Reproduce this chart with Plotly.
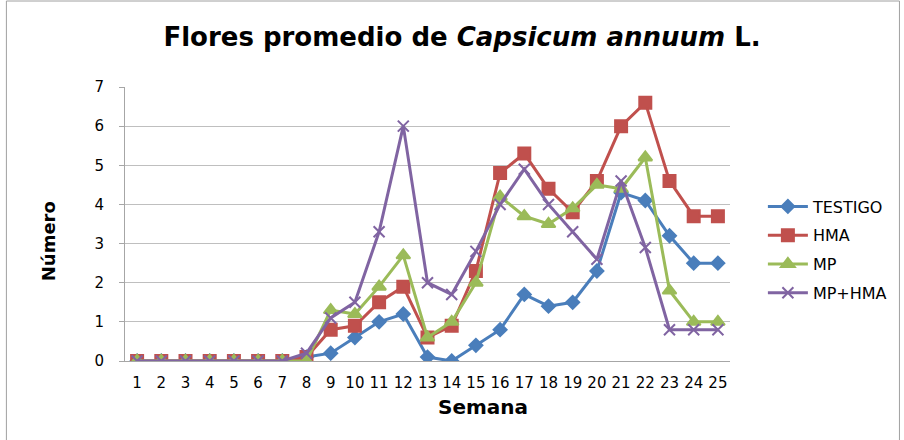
import plotly.graph_objects as go

weeks = [str(i) for i in range(1, 26)]
testigo = [0, 0, 0, 0, 0, 0, 0, 0.1, 0.2, 0.6, 1.0, 1.2, 0.1, 0.0, 0.4, 0.8, 1.7, 1.4, 1.5, 2.3, 4.3, 4.1, 3.2, 2.5, 2.5]
hma = [0, 0, 0, 0, 0, 0, 0, 0.1, 0.8, 0.9, 1.5, 1.9, 0.6, 0.9, 2.3, 4.8, 5.3, 4.4, 3.8, 4.6, 6.0, 6.6, 4.6, 3.7, 3.7]
mp = [0, 0, 0, 0, 0, 0, 0, 0.0, 1.3, 1.2, 1.9, 2.7, 0.6, 1.0, 2.0, 4.2, 3.7, 3.5, 3.9, 4.5, 4.4, 5.2, 1.8, 1.0, 1.0]
mp_hma = [0, 0, 0, 0, 0, 0, 0, 0.2, 1.1, 1.5, 3.3, 6.0, 2.0, 1.7, 2.8, 4.0, 4.9, 4.0, 3.3, 2.6, 4.6, 2.9, 0.8, 0.8, 0.8]

series = [
    ("TESTIGO", testigo, "#4A7EBB", "diamond", 10),
    ("HMA", hma, "#C0504D", "square", 12),
    ("MP", mp, "#9BBB59", "triangle-up", 12),
    ("MP+HMA", mp_hma, "#8064A2", "x-thin", 11),
]

FONT = "'DejaVu Sans', Verdana, sans-serif"

fig = go.Figure()
for name, vals, color, sym, size in series:
    fig.add_trace(go.Scatter(
        x=weeks, y=vals, name=name, mode="lines+markers", legendgroup=name,
        line=dict(color=color, width=3),
        marker=dict(symbol=sym, size=size, color=color,
                    line=dict(color=color, width=2)),
    ))

fig.update_layout(
    width=904, height=440,
    paper_bgcolor="white", plot_bgcolor="white",
    margin=dict(l=125, r=172, t=87, b=79),
    title=dict(
        text="<b>Flores promedio de <i>Capsicum annuum</i> L.</b>",
        x=462 / 904, xref="container", xanchor="center",
        y=1 - 37 / 440, yref="container", yanchor="middle",
        font=dict(family=FONT, size=26, color="black"),
    ),
    font=dict(family=FONT, size=15, color="black"),
    xaxis=dict(
        type="category", range=[-0.5, 24.5],
        showgrid=False, showline=True, linecolor="#A6A6A6", linewidth=1,
        ticks="", tickfont=dict(size=15), ticklabelstandoff=8,
    ),
    yaxis=dict(
        range=[0, 7], dtick=1, showgrid=True, gridcolor="#BFBFBF", gridwidth=1,
        showline=True, linecolor="#A6A6A6", linewidth=1, ticks="outside",
        ticklen=5, tickcolor="#A6A6A6", tickfont=dict(size=15),
        ticklabelstandoff=12, zeroline=False,
    ),
    legend=dict(
        x=(765 - 125) / 607, y=(361 - 250) / 274, xanchor="left", yanchor="middle",
        font=dict(size=16), tracegroupgap=5, itemwidth=40,
        bgcolor="rgba(0,0,0,0)",
    ),
    annotations=[
        dict(text="<b>Semana</b>", xref="paper", yref="paper",
             x=(484 - 125) / 607, y=(361 - 407) / 274,
             xanchor="center", yanchor="middle", showarrow=False,
             font=dict(family=FONT, size=20, color="black")),
        dict(text="<b>Número</b>", xref="paper", yref="paper",
             x=(48 - 125) / 607, y=(361 - 241) / 274, textangle=-90,
             xanchor="center", yanchor="middle", showarrow=False,
             font=dict(family=FONT, size=18, color="black")),
    ],
    shapes=[dict(
        type="rect", xref="paper", yref="paper",
        x0=(6 - 125) / 607, x1=(902 - 125) / 607,
        y0=(361 - 450) / 274, y1=(361 - 1) / 274,
        line=dict(color="#A0A0A0", width=1), fillcolor="rgba(0,0,0,0)",
        layer="below",
    )],
)

fig.write_html("out.html", config={"displayModeBar": False},
               post_script="document.body.style.margin='0';")
